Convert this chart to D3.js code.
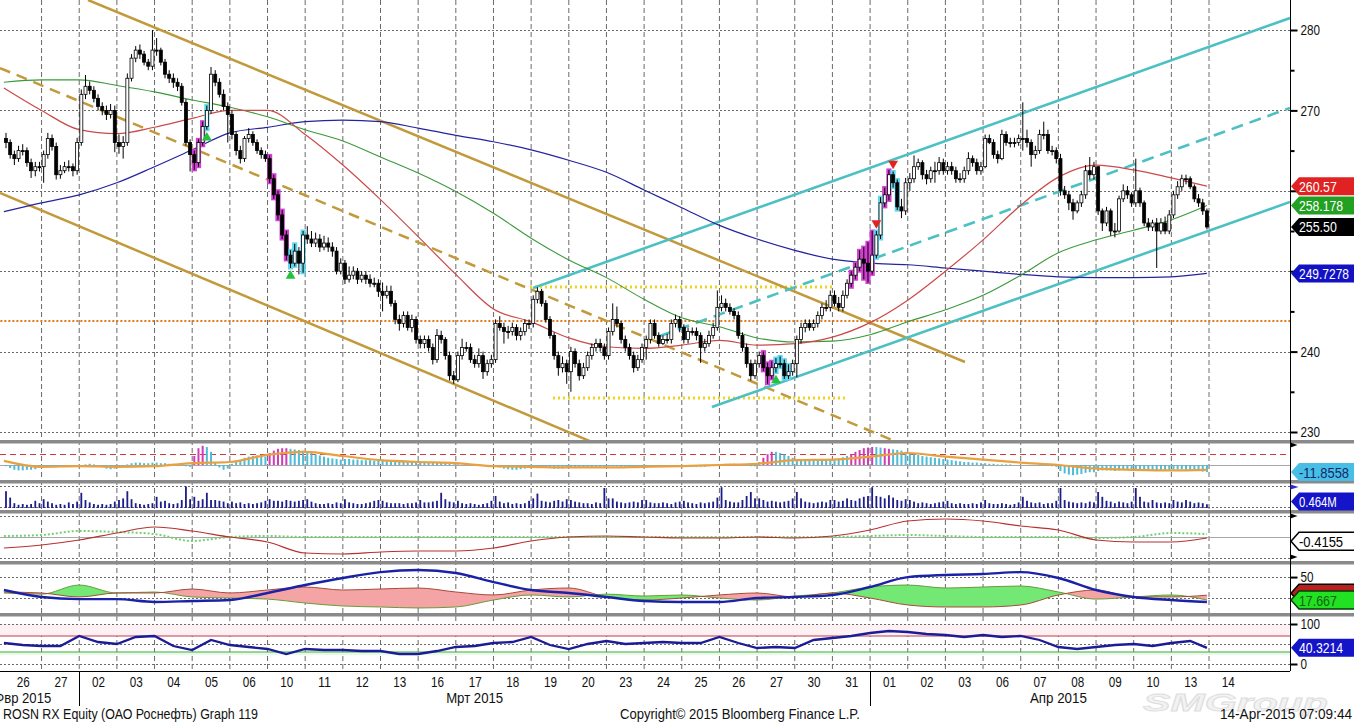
<!DOCTYPE html>
<html>
<head>
<meta charset="utf-8">
<title>ROSN RX Equity</title>
<script src="https://cdn.jsdelivr.net/npm/d3@7"></script>
<style>
  html, body { margin: 0; padding: 0; background: #fff; }
  svg { display: block; }
  text { font-family: "Liberation Sans", "DejaVu Sans", sans-serif; }
</style>
</head>
<body>
<div id="chart"></div>
<script>
// trading days on the axis (9 hourly bars per day)
var days = ['26','27','02','03','04','05','06','10','11','12','13','16','17','18','19','20',
            '23','24','25','26','27','30','31','01','02','03','06','07','08','09','10','13','14'];
var months = [
  { name: 'Фвр 2015', from: -1, to: 2 },
  { name: 'Мрт 2015', from: 2, to: 23 },
  { name: 'Апр 2015', from: 23, to: 33 }
];

var firstOpen = 266.5;
var closes = [
  266.0,264.5,264.0,265.0,265.0,263.5,262.5,263.0,263.0,
  264.5,266.5,265.5,262.0,262.5,263.0,263.0,262.5,266.0,
  272.0,273.0,272.5,271.5,270.5,270.0,269.5,270.0,266.0,
  265.5,266.0,274.0,276.5,277.5,277.0,276.0,275.5,277.5,
  277.5,276.0,274.5,274.0,273.5,273.0,271.0,266.0,264.5,
  263.5,266.0,268.0,270.0,274.5,273.5,272.0,270.5,269.5,
  267.0,265.0,264.0,266.5,267.0,266.0,265.0,264.5,264.0,
  261.5,259.5,257.0,254.5,252.0,251.0,252.5,251.0,254.5,
  254.0,253.5,254.0,253.0,253.5,253.0,252.5,250.0,251.0,
  249.0,249.5,250.0,249.0,249.5,249.0,248.5,248.5,247.5,
  247.0,247.5,246.0,244.0,243.5,244.5,243.0,244.0,241.5,
  241.0,241.5,240.5,239.0,242.0,241.5,239.5,237.0,236.5,
  239.5,240.5,240.5,239.0,238.5,239.5,237.5,238.5,239.0,
  243.5,243.0,242.5,242.5,243.0,242.0,242.5,243.5,243.5,
  246.5,247.5,246.0,244.0,242.0,239.5,238.0,238.5,237.5,
  240.0,238.5,237.0,238.0,239.5,240.5,241.0,240.5,239.5,
  242.5,244.0,243.5,241.5,240.5,239.5,238.0,239.0,240.5,
  241.5,243.5,242.0,241.0,241.5,241.5,243.5,244.0,243.0,
  241.5,242.5,242.5,242.0,240.5,241.0,242.0,243.0,245.5,
  246.0,245.5,245.0,244.5,242.0,240.5,238.5,237.0,238.5,
  239.5,238.0,237.0,238.0,238.5,238.5,237.0,237.5,238.5,
  241.5,243.0,243.5,243.0,243.5,244.5,245.5,245.5,247.0,
  246.0,245.5,247.0,248.5,249.5,250.5,251.5,251.0,250.0,
  252.0,254.5,258.5,259.5,262.0,261.0,258.0,257.5,261.0,
  261.5,263.0,263.5,262.0,261.5,262.5,262.5,263.5,262.5,
  263.0,262.5,261.5,261.5,262.5,264.0,263.5,262.5,263.0,
  266.5,266.0,264.5,264.0,267.0,266.0,266.0,266.0,266.5,
  266.5,266.0,264.5,265.0,267.0,267.0,265.0,265.0,264.0,
  260.0,259.5,258.5,257.5,258.5,259.5,262.5,262.0,263.0,
  257.5,256.0,257.5,255.0,255.0,259.0,260.0,259.5,258.5,
  260.0,258.5,256.0,255.5,256.0,255.0,256.0,255.0,257.0,
  259.5,260.5,261.5,261.5,260.5,259.0,258.5,257.5,255.5
];
var highs = [
  267.2,266.4,265.0,265.6,265.8,265.4,264.0,263.6,263.6,
  265.0,267.2,267.0,266.0,263.2,263.6,263.8,263.4,266.6,
  272.6,274.4,273.6,273.0,272.0,271.0,270.6,270.8,270.6,
  267.0,266.8,274.6,277.0,278.0,278.2,277.4,276.4,280.0,
  279.0,277.8,276.4,275.0,274.6,274.0,273.4,271.4,266.4,
  265.0,266.4,268.6,270.6,275.4,275.0,274.0,272.6,271.0,
  270.0,267.4,265.6,266.8,267.8,267.4,266.4,265.4,265.0,
  264.4,262.0,260.0,257.6,255.0,252.6,253.4,253.0,255.0,
  255.6,255.0,254.8,254.6,254.4,254.2,253.6,253.0,251.6,
  251.4,250.6,250.6,250.4,250.0,250.0,249.6,249.2,249.0,
  248.6,248.2,248.2,246.4,244.6,245.0,245.0,244.6,244.4,
  242.0,242.0,242.0,241.0,242.8,242.6,241.8,240.0,237.6,
  240.0,241.6,241.2,241.0,239.6,240.4,240.0,239.0,239.6,
  244.0,244.4,243.6,243.2,243.6,243.4,243.0,244.0,244.0,
  247.0,248.0,247.8,246.4,244.4,242.4,240.0,239.4,239.0,
  240.6,240.4,239.0,238.6,240.0,241.0,241.6,241.6,241.0,
  243.0,246.0,245.6,243.8,242.0,241.0,240.0,239.6,241.0,
  242.0,244.0,244.0,242.4,242.0,242.2,244.0,244.6,244.4,
  243.4,243.0,243.0,243.0,242.4,241.6,242.6,243.6,247.6,
  247.0,246.6,246.0,245.4,245.0,242.4,241.0,239.0,239.0,
  240.0,240.0,238.6,238.8,239.2,239.4,239.0,238.4,239.0,
  242.0,243.6,244.0,244.0,244.0,245.0,246.0,246.4,247.6,
  247.6,246.8,247.6,249.0,250.0,251.0,252.6,253.0,253.6,
  255.0,255.0,259.2,260.4,262.6,262.4,261.4,259.0,261.6,
  262.2,264.4,264.0,263.8,262.6,263.0,263.6,264.2,264.0,
  263.6,263.6,263.0,262.2,263.0,264.8,264.4,264.0,263.6,
  267.0,267.0,266.4,265.0,267.6,267.4,266.6,266.6,267.0,
  271.0,267.6,266.4,265.6,267.6,268.6,267.6,265.6,265.4,
  264.6,260.6,260.0,259.0,258.8,260.0,263.2,264.2,263.6,
  263.0,257.8,258.0,257.8,256.0,259.4,260.8,260.6,259.8,
  264.0,260.4,258.8,256.6,256.4,256.6,256.6,256.8,257.6,
  260.0,261.2,262.0,262.0,261.8,260.8,259.6,259.0,257.8
];
var lows = [
  265.3,264.0,263.2,263.6,264.4,263.0,261.6,261.8,262.4,
  261.0,264.0,265.0,261.4,261.5,262.2,262.4,261.8,262.0,
  265.6,271.4,272.0,271.0,270.0,269.4,268.8,269.0,264.8,
  264.6,264.0,265.6,273.6,276.0,276.4,275.6,275.0,275.0,
  276.8,275.6,274.0,273.4,272.8,272.4,270.6,265.6,262.4,
  262.6,263.0,265.6,267.6,269.6,273.0,271.6,270.0,266.0,
  266.4,264.4,263.4,263.6,266.0,265.6,264.6,264.0,263.6,
  261.0,259.0,256.4,254.0,251.4,250.4,250.6,249.6,249.8,
  253.4,253.0,253.0,252.4,252.6,252.4,251.8,249.6,249.6,
  248.4,248.6,249.0,248.4,248.6,248.4,248.0,248.0,246.8,
  245.0,246.6,245.6,243.4,242.6,243.0,242.6,242.4,241.0,
  240.4,240.4,240.0,238.4,238.6,241.0,239.0,236.4,236.0,
  236.2,239.0,240.0,238.6,238.0,238.0,236.6,237.0,238.0,
  238.6,242.6,241.0,241.6,242.0,241.4,241.4,242.0,242.8,
  243.0,246.0,245.6,243.6,241.6,239.0,237.0,237.4,236.0,
  235.0,238.0,236.4,236.6,237.6,239.0,240.0,240.0,239.0,
  239.0,242.0,243.0,241.0,240.0,239.0,237.4,237.6,238.6,
  239.0,241.0,241.6,240.6,240.8,241.0,241.0,243.0,242.4,
  241.0,241.0,242.0,241.4,238.6,240.0,240.6,241.6,242.6,
  245.0,245.0,244.6,244.0,241.6,240.0,238.0,236.4,236.6,
  238.0,237.6,236.0,236.6,237.4,238.0,236.6,236.6,237.0,
  236.8,241.0,242.4,242.6,242.6,243.0,244.0,245.0,245.0,
  245.6,245.0,245.0,246.6,248.0,249.0,250.0,249.0,248.6,
  249.6,251.6,254.0,258.0,258.8,260.4,257.6,256.6,257.0,
  260.0,261.0,262.6,261.4,260.8,261.0,261.0,262.0,262.0,
  262.0,262.0,261.0,261.0,261.0,262.0,263.0,262.0,262.0,
  262.8,265.8,264.0,263.4,263.8,265.6,265.4,265.4,265.6,
  265.0,265.4,263.0,264.0,264.6,266.4,264.6,264.4,263.4,
  259.4,259.0,257.6,256.4,257.2,258.0,259.0,261.4,261.4,
  257.0,255.0,255.6,254.4,254.2,254.8,258.6,259.0,258.0,
  258.0,258.0,255.6,255.0,255.0,250.4,254.6,254.6,254.6,
  256.6,259.0,260.0,260.8,260.2,258.6,258.0,257.0,255.2
];

// highlighted bars (setup counts) and signal arrows, by bar index
var magentaBars = [45,46,47, 63,64,65,66,67, 181,182,183, 202,203,204,205,206, 207,210,211];
var cyanBars = [48, 68,69,71, 184,185,186,187, 208,209, 212,213];
var buySignals = [48, 68, 184];
var sellSignals = [208, 212];

// moving averages, sampled at each day boundary (last value at the last bar)
var maRed = [272.8,270.0,267.6,267.1,267.9,269.0,270.0,270.0,267.0,263.2,258.9,254.3,249.6,245.3,243.7,
             241.7,240.6,240.4,240.8,241.4,240.8,241.0,241.8,243.6,246.4,250.0,253.9,258.2,261.7,263.2,
             262.6,261.6,260.57];
var maGreen = [273.5,273.8,273.8,273.1,272.3,271.3,270.4,269.2,267.6,266.2,264.2,262.2,259.9,257.2,254.1,
               251.4,249.2,246.5,244.2,243.1,241.7,241.2,241.3,242.1,243.7,245.2,247.0,249.5,252.3,253.9,
               255.1,256.4,258.178];
var maBlue = [257.4,258.5,259.5,261.0,263.0,265.1,267.2,267.9,268.6,268.8,268.6,267.8,266.9,266.1,265.1,
              263.8,262.3,260.1,257.9,255.7,254.0,252.6,251.5,251.0,250.8,250.4,250.0,249.6,249.3,249.2,
              249.2,249.3,249.7278];

// drawn trend objects: [dayUnit, price] end points
var brownChannel = [
  [[2.233, 283.73], [25.52, 238.71]],
  [[-0.104, 259.73], [16.10, 227.80]]
];
var brownMid = [[-0.104, 275.27], [23.79, 228.60]];
var cyanChannel = [
  [[14.05, 247.91], [34.15, 281.49]],
  [[18.80, 233.11], [34.15, 258.61]]
];
var cyanMid = [[17.42, 241.94], [34.15, 270.30]];
var yellowLevels = [
  [[13.97, 248.03], [21.99, 248.03]],
  [[14.58, 234.23], [22.41, 234.23]]
];
var orangeLevel = [[-0.2, 243.8], [34.15, 243.8]];

// oscillator histogram (per bar) and its signal line (per day)
var oscHist = [
  -2,-5,-8,-9,-9,-8,-8,-7,-4,
  -3,-2,-2,-3,-2,-2,-1,-1,-1,
  0,1,2,1,0,-3,-6,-7,-6,
  -4,-3,1,3,4,4,3,3,4,
  4,3,3,2,2,1,0,-2,-3,
  15,28,32,30,22,5,-4,-8,-6,
  2,5,8,12,14,15,16,15,14,
  20,24,27,28,28,27,26,25,24,
  22,20,18,16,14,12,11,10,9,
  10,10,9,9,8,8,8,7,7,
  8,8,7,7,7,6,6,6,6,
  6,6,5,5,5,4,3,2,1,
  1,0,0,-1,-1,0,0,-1,-1,
  -3,-4,-6,-7,-8,-8,-7,-6,-5,
  -4,-3,-3,-4,-5,-6,-6,-6,-5,
  -5,-5,-5,-4,-4,-4,-3,-3,-3,
  -2,-2,-2,-3,-3,-4,-4,-4,-3,
  -3,-2,-2,-2,-2,-1,-1,-1,-2,
  -2,-2,-2,-3,-3,-3,-2,-1,0,
  1,2,2,2,1,0,-1,-2,-2,
  5,12,18,22,22,20,18,15,12,
  10,10,9,9,8,8,8,8,9,
  10,11,13,15,18,22,25,28,29,
  30,30,29,28,27,26,25,24,22,
  20,18,17,15,14,13,12,11,10,
  9,8,7,6,5,5,4,4,3,
  3,2,2,1,1,1,1,0,0,
  0,0,0,0,-1,-1,-1,-2,-3,
  -10,-14,-16,-17,-16,-15,-13,-12,-12,
  -10,-9,-9,-9,-10,-9,-8,-8,-8,
  -8,-8,-9,-9,-9,-9,-9,-8,-8,
  -7,-7,-7,-8,-8,-9,-10,-11,-11.8558
];
var oscSignal = [7,-3,-2,-3,-2,3,5,17,22,15,8,5,3,-2,-3,-4,-4,-3,-2,0,2,8,9,14,20,14,9,4,0,-6,-8,-9,-8];
var oscLevel = 18;

// volume, millions, per bar
var volume = [
  2.1,1.3,0.6,0.4,0.5,0.4,0.5,0.9,0.6,
  1.1,0.8,0.6,0.4,0.5,0.4,0.7,0.5,0.8,
  1.9,1.0,0.7,0.5,0.4,0.5,0.4,0.5,0.8,
  1.0,1.2,2.1,1.1,0.6,0.5,0.4,0.5,0.6,
  1.4,0.8,0.9,0.6,0.5,0.6,1.0,2.7,1.1,
  1.4,0.9,1.1,1.9,1.0,1.0,0.9,0.8,0.6,
  0.8,0.6,0.7,0.5,0.6,0.5,0.6,0.7,0.9,
  1.1,0.9,0.9,0.8,1.0,0.9,0.8,0.9,1.0,
  1.1,0.8,0.6,0.5,0.5,0.6,0.5,0.7,0.6,
  1.1,0.7,0.6,0.5,0.5,0.6,0.7,0.9,1.0,
  0.9,0.7,0.6,0.6,0.6,0.5,0.6,0.6,0.7,
  1.0,0.7,0.7,0.8,0.9,1.9,1.1,0.8,0.7,
  0.9,0.6,0.5,0.6,0.5,0.4,0.5,0.6,0.9,
  1.5,0.8,0.6,0.7,0.5,0.6,0.5,0.6,0.9,
  1.2,1.8,0.9,0.8,0.7,0.9,1.0,0.8,1.1,
  1.0,0.8,0.7,0.6,0.6,0.5,0.7,0.6,2.5,
  1.2,1.2,0.8,0.7,0.6,0.7,0.8,0.7,1.0,
  1.0,0.7,0.6,0.6,0.7,0.6,0.5,0.7,0.8,
  0.9,0.7,0.6,0.5,0.7,0.6,0.7,0.8,1.3,
  2.6,1.0,0.8,0.7,0.7,1.0,1.5,2.0,1.2,
  1.2,1.0,0.8,0.9,0.8,0.7,0.8,0.9,1.2,
  2.0,1.2,0.8,0.7,0.6,0.7,0.8,0.7,1.0,
  1.0,0.8,0.9,1.2,1.0,0.9,1.2,1.4,1.5,
  2.6,1.5,1.4,1.2,1.6,1.3,1.0,0.9,1.1,
  1.0,0.8,0.6,0.7,0.6,0.5,0.6,0.7,0.8,
  0.9,0.6,0.5,0.6,0.5,0.5,0.6,0.5,0.7,
  1.0,0.6,0.5,0.5,0.6,0.5,0.4,0.5,0.7,
  1.4,0.9,0.7,0.6,0.7,0.5,0.6,0.6,0.9,
  2.5,1.0,0.8,0.7,0.6,0.7,0.6,0.8,0.7,
  2.0,1.4,0.9,0.8,0.6,0.8,0.7,0.6,0.8,
  2.5,1.4,0.8,0.7,1.0,0.7,0.6,0.7,0.6,
  1.0,0.8,0.7,1.0,0.8,0.6,0.7,0.6,0.464
];

// momentum pair, per day
var momRed = [-1.1,-0.8,-0.3,0.4,1.0,0.6,0,-0.5,-1.6,-1.7,-1.5,-1.4,-1.4,-1.1,-0.4,0,0.1,0,-0.1,-0.1,
              0,-0.1,0.1,0.7,1.6,1.8,1.6,1.1,0.7,-0.3,-0.5,-0.5,-0.1];
var momGreen = [0.1,0.2,0.6,0.5,0.3,-0.4,0,0.1,0,0,0,0,0,0,0,0,0,0,0,0,
                0,0,0,0.1,0.2,0.1,0,0,0,-0.1,0,0.4,0.3];
var momLast = -0.4155;

// DMI / ADX, per day
var adx = [31.8,22,19,19,15,16.3,17.7,27.6,38.8,48.7,57,60,55.7,43,31.8,27.6,22,16.3,15,15,
           20.5,22,24.8,36,50,53,54.3,57,48.7,31.8,22,17.7,15];
var diMinus = [29,27.6,22,27.6,27.6,33.2,27.6,31.8,36,31.8,33.2,34.6,29,24.8,31.8,34.6,22,17.7,20.5,24.8,
               27.6,22,27.6,20.5,10.7,7.9,7.9,10.7,24.8,31.8,22,22,24.5];
var diPlus = [27.6,26,38.8,27.6,29,22,20.5,19,13.5,9.3,7.9,6.5,7.9,17.7,24.8,22,26,23.3,24.8,20.5,
              17.7,23.3,27.6,36,38.8,34.6,36,37.4,29,19,22,24.8,17.667];

// RSI, sampled twice a day (last value at the last bar)
var rsi = [52.5,47.5,45,45,70,55,50,67.5,70,45,35,60,47.5,42.5,37.5,25,37.5,35,35,32.5,32.5,25,25,32.5,
           42.5,45,52.5,55,67.5,47.5,37.5,50,57.5,50,52.5,55,52.5,52.5,67.5,52.5,40,42.5,40,60,65,70,
           77.5,82.5,80,75,72.5,67.5,72.5,67.5,70,60,42.5,37.5,42.5,47.5,50,45,52.5,57.5,40.3214];
var rsiLevels = [30, 70];

(function() {
  const W = 1354;
  const H = 723;
  const AXIS_X = 1290;
  const BARS_PER_DAY = 9;
  const BOTTOM = 671;
  const CHAR_W = 6.5;   // the chart font is narrow: squeeze labels to it

  var svg = d3.select('#chart').append('svg')
    .attr('width', W)
    .attr('height', H);

  svg.append('rect').attr('width', W).attr('height', H).attr('fill', '#fff');

  var x = d3.scaleLinear().domain([0, days.length]).range([3.9, 3.9 + days.length * 37.66]);

  var yPrice = d3.scaleLinear().domain([230, 280]).range([432, 30]);
  var yOsc   = d3.scaleLinear().domain([-25, 36.7]).range([480, 443]);
  var yVol   = d3.scaleLinear().domain([0, 2.75]).range([508, 486]);
  var yMom   = d3.scaleLinear().domain([-2.4, 2.4]).range([561, 513]);
  var yDmi   = d3.scaleLinear().domain([0, 68.4]).range([612.6, 564]);
  var yRsi   = d3.scaleLinear().domain([0, 100]).range([664, 624]);

  var panels = [
    { top: 0,     bottom: 440 },
    { top: 443.5, bottom: 480 },
    { top: 483.5, bottom: 510 },
    { top: 513.5, bottom: 561 },
    { top: 564.5, bottom: 613 },
    { top: 616.5, bottom: BOTTOM }
  ];

  function barUnit(i) {
    return Math.floor(i / BARS_PER_DAY) + (i % BARS_PER_DAY + 0.5) / BARS_PER_DAY;
  }
  var lastUnit = barUnit(closes.length - 1);

  // day grid: k = 0..n-2 on the day boundaries, the last point sits on the last bar
  function dayUnit(k, n) {
    return k < n - 1 ? k : lastUnit;
  }

  function squeeze(sel, width) {
    sel.each(function() {
      var t = d3.select(this);
      var w = width || t.text().length * CHAR_W;
      t.attr('textLength', w).attr('lengthAdjust', 'spacingAndGlyphs');
    });
  }

  var defs = svg.append('defs');
  panels.forEach(function(p, i) {
    defs.append('clipPath').attr('id', 'clip-' + i)
      .append('rect')
      .attr('x', 0).attr('y', p.top)
      .attr('width', AXIS_X).attr('height', p.bottom - p.top);
  });

  function panel(i) {
    return svg.append('g').attr('clip-path', 'url(#clip-' + i + ')');
  }

  function hLine(g, y, color, dash, width, x1, x2) {
    g.append('line')
      .attr('x1', x1 == null ? 0 : x1).attr('x2', x2 == null ? AXIS_X : x2)
      .attr('y1', y).attr('y2', y)
      .attr('stroke', color)
      .attr('stroke-width', width || 1)
      .attr('stroke-dasharray', dash || null);
  }

  //
  // grid
  //

  var grid = svg.append('g');
  d3.range(1, days.length).forEach(function(k) {
    grid.append('line')
      .attr('x1', x(k)).attr('x2', x(k))
      .attr('y1', 0).attr('y2', BOTTOM)
      .attr('stroke', '#5a5a5a')
      .attr('stroke-width', 0.9)
      .attr('stroke-dasharray', '5,3');
  });

  d3.range(230, 281, 10).forEach(function(v) {
    hLine(grid, Math.round(yPrice(v)) + 0.5, '#6a6a6a', '2,2');
  });
  [486, 507].forEach(function(y) { hLine(grid, y + 0.5, '#6a6a6a', '2,2'); });
  [516, 558].forEach(function(y) { hLine(grid, y + 0.5, '#6a6a6a', '2,2'); });
  [50, 20].forEach(function(v) { hLine(grid, Math.round(yDmi(v)) + 0.5, '#6a6a6a', '2,2'); });

  //
  // main price panel
  //

  var main = panel(0);

  function segment(g, pts, color, width, dash) {
    g.append('line')
      .attr('x1', x(pts[0][0])).attr('y1', yPrice(pts[0][1]))
      .attr('x2', x(pts[1][0])).attr('y2', yPrice(pts[1][1]))
      .attr('stroke', color)
      .attr('stroke-width', width)
      .attr('stroke-dasharray', dash || null);
  }

  hLine(main, yPrice(orangeLevel[0][1]), '#e07a1c', '2,2', 2, x(orangeLevel[0][0]), x(orangeLevel[1][0]));
  yellowLevels.forEach(function(l) { segment(main, l, '#f3d21a', 3, '2,3'); });

  brownChannel.forEach(function(l) { segment(main, l, '#c29a3c', 2.5); });
  segment(main, brownMid, '#c29a3c', 2.5, '11,7');
  cyanChannel.forEach(function(l) { segment(main, l, '#4cc0c2', 2.6); });
  segment(main, cyanMid, '#4cc0c2', 2.6, '12,7');

  function maLine(values, color, width) {
    var line = d3.line()
      .x(function(d, k) { return x(dayUnit(k, values.length)); })
      .y(function(d) { return yPrice(d); })
      .curve(d3.curveMonotoneX);
    main.append('path')
      .attr('d', line(values))
      .attr('fill', 'none')
      .attr('stroke', color)
      .attr('stroke-width', width);
  }
  maLine(maBlue, '#2424a0', 1.2);
  maLine(maGreen, '#3a9a3a', 1.1);
  maLine(maRed, '#cc4a4a', 1.2);

  var bars = closes.map(function(c, i) {
    return {
      i: i,
      o: i == 0 ? firstOpen : closes[i - 1],
      h: highs[i],
      l: lows[i],
      c: c
    };
  });

  var glow = main.append('g');
  function addGlow(list, color) {
    list.forEach(function(i) {
      var b = bars[i];
      glow.append('rect')
        .attr('x', x(barUnit(i)) - 2.6)
        .attr('y', yPrice(b.h) - 1.5)
        .attr('width', 5.2)
        .attr('height', yPrice(b.l) - yPrice(b.h) + 3)
        .attr('fill', color);
    });
  }
  addGlow(magentaBars, '#d23fd2');
  addGlow(cyanBars, '#62d6ee');

  var candles = main.append('g')
    .selectAll('g')
    .data(bars)
    .enter().append('g');

  candles.append('line')
    .attr('x1', function(b) { return x(barUnit(b.i)); })
    .attr('x2', function(b) { return x(barUnit(b.i)); })
    .attr('y1', function(b) { return yPrice(b.h); })
    .attr('y2', function(b) { return yPrice(b.l); })
    .attr('stroke', '#000')
    .attr('stroke-width', 1);

  candles.append('rect')
    .attr('x', function(b) { return x(barUnit(b.i)) - 1.5; })
    .attr('y', function(b) { return yPrice(Math.max(b.o, b.c)); })
    .attr('width', 3)
    .attr('height', function(b) { return Math.max(1, Math.abs(yPrice(b.o) - yPrice(b.c))); })
    .attr('fill', function(b) { return b.c > b.o ? '#fff' : '#000'; })
    .attr('stroke', '#000')
    .attr('stroke-width', 0.8);

  var tri = d3.symbol(d3.symbolTriangle).size(42);
  buySignals.forEach(function(i) {
    main.append('path')
      .attr('d', tri())
      .attr('transform', 'translate(' + x(barUnit(i)) + ',' + (yPrice(bars[i].l) + 8) + ')')
      .attr('fill', '#22c23a');
  });
  sellSignals.forEach(function(i) {
    main.append('path')
      .attr('d', tri())
      .attr('transform', 'translate(' + x(barUnit(i)) + ',' + (yPrice(bars[i].h) - 8) + ') rotate(180)')
      .attr('fill', '#e02424');
  });

  //
  // oscillator panel
  //

  var osc = panel(1);
  hLine(osc, Math.round(yOsc(oscLevel)) + 0.5, '#d43a3a', '6,4');
  hLine(osc, Math.round(yOsc(0)) + 0.5, '#a8a8a8');

  osc.selectAll('rect.h')
    .data(oscHist)
    .enter().append('rect')
    .attr('x', function(d, i) { return x(barUnit(i)) - 1; })
    .attr('y', function(d) { return yOsc(Math.max(0, d)); })
    .attr('width', 2)
    .attr('height', function(d) { return Math.abs(yOsc(d) - yOsc(0)); })
    .attr('fill', function(d, i) { return magentaBars.indexOf(i) >= 0 ? '#d23ab8' : '#4cbcd8'; });

  osc.append('path')
    .attr('d', d3.line()
      .x(function(d, k) { return x(dayUnit(k, oscSignal.length)); })
      .y(function(d) { return yOsc(d); })
      .curve(d3.curveMonotoneX)(oscSignal))
    .attr('fill', 'none')
    .attr('stroke', '#e8a040')
    .attr('stroke-width', 2.2);

  //
  // volume panel
  //

  var vol = panel(2);
  vol.selectAll('rect')
    .data(volume)
    .enter().append('rect')
    .attr('x', function(d, i) { return x(barUnit(i)) - 0.9; })
    .attr('y', function(d) { return yVol(d); })
    .attr('width', 1.8)
    .attr('height', function(d) { return yVol(0) - yVol(d); })
    .attr('fill', '#1c1c8a');

  //
  // momentum panel
  //

  var mom = panel(3);
  hLine(mom, Math.round(yMom(0)) + 0.5, '#a8a8a8');

  function subLine(g, values, scale, color, width, dash) {
    g.append('path')
      .attr('d', d3.line()
        .x(function(d, k) { return x(dayUnit(k, values.length)); })
        .y(function(d) { return scale(d); })
        .curve(d3.curveMonotoneX)(values))
      .attr('fill', 'none')
      .attr('stroke', color)
      .attr('stroke-width', width)
      .attr('stroke-dasharray', dash || null);
  }
  subLine(mom, momGreen, yMom, '#72d072', 2, '2,2');
  subLine(mom, momRed, yMom, '#b83030', 1.2);

  //
  // DMI panel, filled between the two direction lines
  //

  var dmi = panel(4);
  var dmiTop = panels[4].top, dmiBottom = panels[4].bottom;

  function dmiArea(values, y0) {
    return d3.area()
      .x(function(d, k) { return x(dayUnit(k, values.length)); })
      .y0(y0)
      .y1(function(d) { return yDmi(d); })
      .curve(d3.curveMonotoneX)(values);
  }
  defs.append('clipPath').attr('id', 'above-minus')
    .append('path').attr('d', dmiArea(diMinus, dmiTop));
  defs.append('clipPath').attr('id', 'above-plus')
    .append('path').attr('d', dmiArea(diPlus, dmiTop));

  dmi.append('g').attr('clip-path', 'url(#above-minus)')
    .append('path').attr('d', dmiArea(diPlus, dmiBottom)).attr('fill', '#74e874');
  dmi.append('g').attr('clip-path', 'url(#above-plus)')
    .append('path').attr('d', dmiArea(diMinus, dmiBottom)).attr('fill', '#f4a4a4');

  subLine(dmi, diPlus, yDmi, '#6a9a3a', 1);
  subLine(dmi, diMinus, yDmi, '#a84a3a', 1);
  subLine(dmi, adx, yDmi, '#1a22a8', 2.4);

  //
  // RSI panel
  //

  var rs = panel(5);
  rs.append('rect')
    .attr('x', 0).attr('width', AXIS_X)
    .attr('y', yRsi(100)).attr('height', yRsi(rsiLevels[1]) - yRsi(100))
    .attr('fill', '#fdf1f4');
  rs.append('rect')
    .attr('x', 0).attr('width', AXIS_X)
    .attr('y', yRsi(rsiLevels[0])).attr('height', yRsi(22) - yRsi(rsiLevels[0]))
    .attr('fill', '#eaf8ea');
  [100, 50, 0].forEach(function(v) { hLine(rs, Math.round(yRsi(v)) + 0.5, '#6a6a6a', '2,2'); });
  hLine(rs, yRsi(rsiLevels[1]), '#c8384a', null, 1);
  hLine(rs, yRsi(rsiLevels[0]), '#3cae3c', null, 1);

  rs.append('path')
    .attr('d', d3.line()
      .x(function(d, k) { return x(k < rsi.length - 1 ? k / 2 : lastUnit); })
      .y(function(d) { return yRsi(d); })(rsi))
    .attr('fill', 'none')
    .attr('stroke', '#1c1c96')
    .attr('stroke-width', 2.3);

  //
  // panel separators and right axis
  //

  [440, 480, 510, 561, 613].forEach(function(y) {
    svg.append('rect')
      .attr('x', 0).attr('y', y)
      .attr('width', W).attr('height', 3.5)
      .attr('fill', '#8a8a8a');
  });

  svg.append('line')
    .attr('x1', 0).attr('x2', AXIS_X)
    .attr('y1', BOTTOM + 0.5).attr('y2', BOTTOM + 0.5)
    .attr('stroke', '#000');
  svg.append('line')
    .attr('x1', AXIS_X + 0.5).attr('x2', AXIS_X + 0.5)
    .attr('y1', 0).attr('y2', BOTTOM)
    .attr('stroke', '#000');

  // 250 and 260 sit under the value boxes
  var hidden = [250, 260];
  var axisG = svg.append('g').attr('transform', 'translate(' + (AXIS_X + 0.5) + ',0)');
  axisG.call(d3.axisRight(yPrice).tickValues(d3.range(230, 281, 10)).tickSize(7).tickPadding(3)
    .tickFormat(function(d) { return hidden.indexOf(d) >= 0 ? '' : d; }));
  axisG.append('g').call(d3.axisRight(yPrice).tickValues(d3.range(235, 280, 10)).tickSize(4).tickFormat(''));
  axisG.append('g').call(d3.axisRight(yDmi).tickValues([50]).tickSize(7).tickPadding(3));
  axisG.append('g').call(d3.axisRight(yRsi).tickValues([0, 100]).tickSize(7).tickPadding(3));
  axisG.selectAll('.domain').remove();
  axisG.selectAll('.tick line').attr('stroke-width', 2);
  axisG.selectAll('text')
    .attr('font-size', 15)
    .attr('fill', '#111')
    .attr('font-family', '"Liberation Sans", "DejaVu Sans", sans-serif')
    .filter(function() { return d3.select(this).text() != ''; })
    .call(squeeze);

  [445, 516, 557].forEach(function(y) {
    axisG.append('path')
      .attr('d', 'M0,' + (y - 2.5) + 'L7,' + y + 'L0,' + (y + 2.5) + 'Z')
      .attr('fill', '#000');
  });
  axisG.append('path')
    .attr('d', 'M0,' + 484.5 + 'L8,' + 487 + 'L0,' + 489.5 + 'Z')
    .attr('fill', '#2a2ad0');

  function valueBox(yc, label, fill, color, stroke) {
    var g = svg.append('g');
    g.append('path')
      .attr('d', 'M' + (AXIS_X + 1) + ',' + yc +
                 'L' + (AXIS_X + 9) + ',' + (yc - 9) +
                 'L' + (W + 2) + ',' + (yc - 9) +
                 'L' + (W + 2) + ',' + (yc + 9) +
                 'L' + (AXIS_X + 9) + ',' + (yc + 9) + 'Z')
      .attr('fill', fill)
      .attr('stroke', stroke || 'none')
      .attr('stroke-width', 1.5);
    if (label) {
      g.append('text')
        .attr('x', AXIS_X + 9)
        .attr('y', yc + 5.5)
        .attr('font-size', 15)
        .attr('fill', color)
        .text(label)
        .call(squeeze, Math.min(label.length * 6.3, W - AXIS_X - 14));
    }
  }

  valueBox(yPrice(maRed[maRed.length - 1]), '260.57', '#e02222', '#fff');
  valueBox(yPrice(maGreen[maGreen.length - 1]), '258.178', '#22a022', '#fff');
  valueBox(yPrice(closes[closes.length - 1]), '255.50', '#000', '#fff');
  valueBox(yPrice(maBlue[maBlue.length - 1]), '249.7278', '#1212c4', '#fff');
  valueBox(yOsc(oscHist[oscHist.length - 1]), '-11.8558', '#48bee6', '#102a6a');
  valueBox(Math.min(yVol(volume[volume.length - 1]), 501.5), '0.464M', '#1414c8', '#fff');
  valueBox(yMom(momLast), '-0.4155', '#fff', '#000', '#000');
  valueBox(yDmi(diMinus[diMinus.length - 1]) - 2, null, '#b82020', '#fff', '#000');
  valueBox(yDmi(diPlus[diPlus.length - 1]), '17.667', '#22e022', '#116011', '#0a3a0a');
  valueBox(yRsi(rsi[rsi.length - 1]), '40.3214', '#1414c8', '#fff');

  //
  // date axis
  //

  var xAxis = svg.append('g').attr('transform', 'translate(0,' + BOTTOM + ')');
  xAxis.call(d3.axisBottom(x)
    .tickValues(d3.range(days.length).map(function(k) { return k + 0.5; }))
    .tickFormat(function(d, i) { return days[i]; })
    .tickSize(0)
    .tickPadding(5));
  xAxis.select('.domain').remove();
  xAxis.selectAll('text')
    .attr('font-size', 15)
    .attr('fill', '#111')
    .attr('font-family', '"Liberation Sans", "DejaVu Sans", sans-serif')
    .call(squeeze);

  months.forEach(function(m, i) {
    if (i > 0) {
      svg.append('line')
        .attr('x1', Math.round(x(m.from)) + 0.5).attr('x2', Math.round(x(m.from)) + 0.5)
        .attr('y1', BOTTOM).attr('y2', 706)
        .attr('stroke', '#000');
    }
    svg.append('text')
      .attr('x', x((m.from + m.to) / 2))
      .attr('y', 703)
      .attr('text-anchor', 'middle')
      .attr('font-size', 15)
      .attr('fill', '#111')
      .text(m.name)
      .call(squeeze, 57);
  });

  //
  // footer
  //

  svg.append('text')
    .attr('x', 1143).attr('y', 711)
    .attr('font-size', 23)
    .attr('font-style', 'italic')
    .attr('font-weight', 'bold')
    .attr('fill', '#f2f2f2')
    .attr('stroke', '#dedede')
    .attr('stroke-width', 0.8)
    .text('SMGroup')
    .call(squeeze, 185);

  svg.append('text')
    .attr('x', 3).attr('y', 719)
    .attr('font-size', 15)
    .attr('fill', '#111')
    .text('ROSN RX Equity (ОАО Роснефть) Graph 119')
    .call(squeeze, 255);
  svg.append('text')
    .attr('x', 740).attr('y', 719)
    .attr('text-anchor', 'middle')
    .attr('font-size', 15)
    .attr('fill', '#111')
    .text('Copyright© 2015 Bloomberg Finance L.P.')
    .call(squeeze, 240);
  svg.append('text')
    .attr('x', 1352).attr('y', 719)
    .attr('text-anchor', 'end')
    .attr('font-size', 15)
    .attr('fill', '#111')
    .text('14-Apr-2015 07:09:44')
    .call(squeeze, 132);
})();
</script>
</body>
</html>
